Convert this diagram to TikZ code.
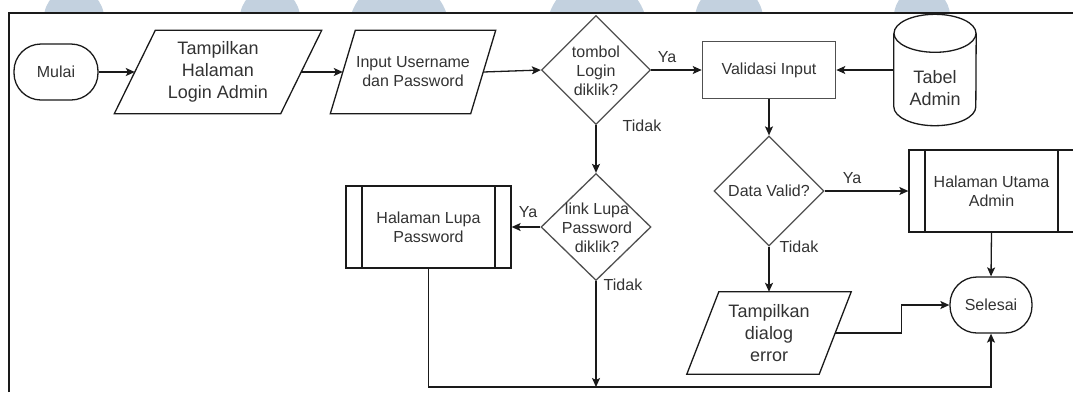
\documentclass[tikz,border=0pt]{standalone}
\usepackage{fontspec}
\setmainfont{Liberation Sans}
\usetikzlibrary{shapes.geometric,arrows.meta}

\definecolor{ink}{HTML}{1A1A1A}
\definecolor{txt}{HTML}{333333}
\definecolor{edge}{HTML}{505050}
\definecolor{capblue}{HTML}{C3D1DF}

\tikzset{
  shp/.style={draw=ink, line width=1.3pt},
  lbl/.style={text=txt, font=\fontsize{16}{19}\selectfont, align=center, inner sep=0pt},
  big/.style={text=txt, font=\fontsize{18}{22}\selectfont, align=center, inner sep=0pt},
  term/.style={shp, rectangle, rounded corners=27pt, minimum width=84pt, minimum height=56pt, lbl},
  procbox/.style={draw=edge, line width=1.6pt, rectangle, minimum width=133pt, minimum height=57pt, lbl},
  dia/.style={draw=edge, line width=1.3pt, diamond, minimum width=109pt, minimum height=109pt, inner sep=0pt},
  subr/.style={shp, rectangle, minimum width=165pt, minimum height=82pt, lbl,
    path picture={\draw[ink, line width=1.3pt]
      ([xshift=16pt]path picture bounding box.north west) -- ([xshift=16pt]path picture bounding box.south west)
      ([xshift=-16pt]path picture bounding box.north east) -- ([xshift=-16pt]path picture bounding box.south east);}},
  flow/.style={draw=ink, line width=1.3pt, -{Stealth[length=9pt,width=8pt,inset=2pt]}}
}

% parallelogram outline around a named node: #1 node, #2 half of the slant
\newcommand\slantbox[2]{\draw[shp] ([xshift=#2]#1.north west) -- ([xshift=#2]#1.north east)
  -- ([xshift=-#2]#1.south east) -- ([xshift=-#2]#1.south west) -- cycle;}

\begin{document}
\begin{tikzpicture}[x=1pt,y=-1pt]
\useasboundingbox (0,0) rectangle (1073,392);
\fill[white] (0,0) rectangle (1073,392);

% round caps above the frame
\begin{scope}
  \clip (0,0) rectangle (1073,13);
  \fill[capblue] (74,18) circle[radius=30pt];
  \fill[capblue] (270,18) circle[radius=30pt];
  \fill[capblue] (399,29) circle[radius=50pt];
  \fill[capblue] (597,29) circle[radius=50pt];
  \fill[capblue] (729,19) circle[radius=34pt];
  \fill[capblue] (922,16) circle[radius=28pt];
\end{scope}

% frame
\draw[ink, line width=2pt] (9,392) -- (9,13) -- (1073,13);

% nodes
\node[term] (mulai) at (56,72) {Mulai};
\node[big, minimum width=166pt, minimum height=83pt] (tp1) at (218,72) {Tampilkan\\Halaman\\Login Admin};
\slantbox{tp1}{20.5pt}
\node[lbl, minimum width=140pt, minimum height=83pt] (inp) at (413,72) {Input Username\\dan Password};
\slantbox{inp}{12.5pt}

\node[dia] (d1) at (596,70) {};
\node[lbl] (d1t) at (596,71) {tombol\\Login\\diklik?};

\node[procbox] (val) at (769,70) {Validasi Input};

\node[inner sep=0pt, minimum width=82pt, minimum height=111pt] (cyl) at (935,70) {};
\draw[shp] ([yshift=-19pt]cyl.north) ellipse [x radius=41pt, y radius=19pt];
\draw[shp] ([yshift=-19pt]cyl.north west) -- ([yshift=19pt]cyl.south west)
  arc[start angle=180, end angle=360, x radius=41pt, y radius=19pt] -- ([yshift=-19pt]cyl.north east);
\node[big] (cylt) at (935,88) {Tabel\\Admin};

\node[dia, minimum width=110pt, minimum height=110pt] (dv) at (769,191) {};
\node[lbl] (dvt) at (769,191) {Data Valid?};

\node[subr] (utama) at (991.5,191) {Halaman Utama\\Admin};
\node[term, minimum width=82pt] (sel) at (991,305) {Selesai};

\node[big, minimum width=132pt, minimum height=82pt] (err) at (769,333) {Tampilkan\\dialog\\error};
\slantbox{err}{16pt}

\node[dia, minimum width=110pt, minimum height=107pt] (d2) at (596,227) {};
\node[lbl] (d2t) at (597,228) {link Lupa\\Password\\diklik?};

\node[subr] (lupa) at (428.5,227) {Halaman Lupa\\Password};

\coordinate (bot) at (596,387);

% connectors
\draw[flow] (mulai.east) -- (tp1.west);
\draw[flow] (tp1.east) -- (inp.west);
\draw[flow] (inp.east) -- (d1.west);
\draw[flow] (d1.east) -- (val.west);
\draw[flow] (cyl.west) -- (val.east);
\draw[flow] (d1.south) -- (d2.north);
\draw[flow] (d2.west) -- (lupa.east);
\draw[flow] (val.south) -- (dv.north);
\draw[flow] (dv.east) -- (utama.west);
\draw[flow] (dv.south) -- (err.north);
\draw[flow] (utama.south) -- (sel.north);
\draw[flow] (err.east) -- ++(66,0) |- (sel.west);
\draw[flow] (d2.south) -- (bot);
\draw[flow] (lupa.south) |- (bot) -| (sel.south);

% branch labels
\node[lbl] (ya1) at (667,57) {Ya};
\node[lbl] (no1) at (642,126) {Tidak};
\node[lbl] (ya2) at (528,212) {Ya};
\node[lbl] (no2) at (623,285) {Tidak};
\node[lbl] (ya3) at (852,178) {Ya};
\node[lbl] (no3) at (799,247) {Tidak};
\end{tikzpicture}
\end{document}
